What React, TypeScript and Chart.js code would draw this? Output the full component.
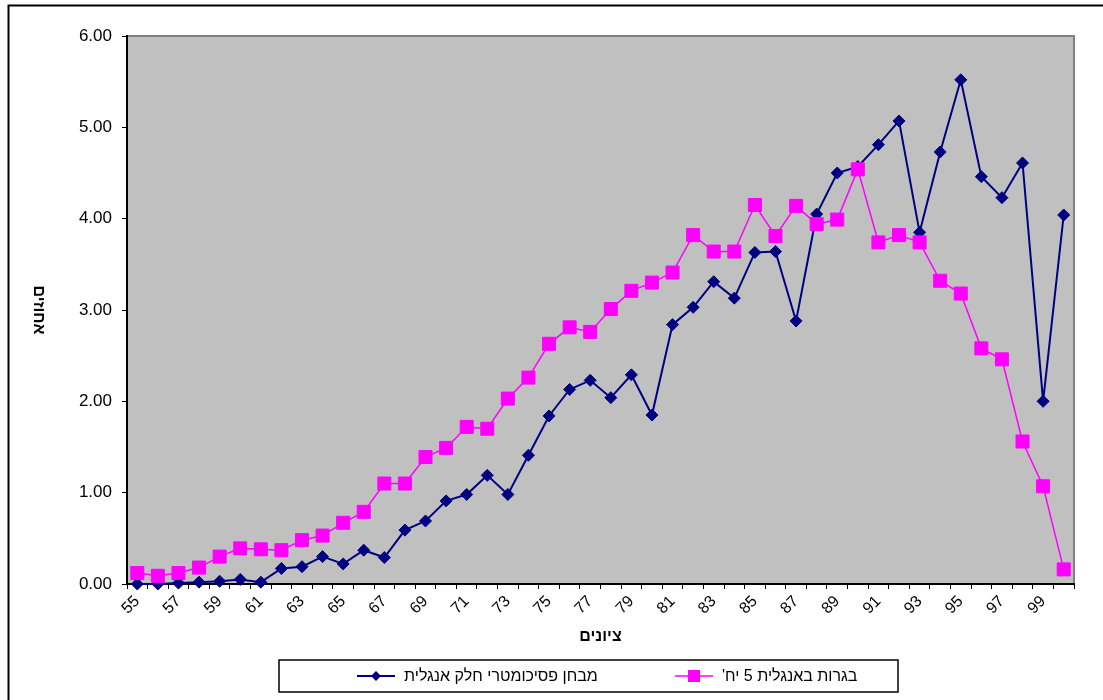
import React, { useEffect, useRef } from 'react';
import { Chart, registerables } from 'chart.js';

Chart.register(...registerables);

// Scores (x categories)
const scores = [
  '55', '56', '57', '58', '59', '60', '61', '62', '63', '64',
  '65', '66', '67', '68', '69', '70', '71', '72', '73', '74',
  '75', '76', '77', '78', '79', '80', '81', '82', '83', '84',
  '85', '86', '87', '88', '89', '90', '91', '92', '93', '94',
  '95', '96', '97', '98', '99', '100',
];

// Psychometric exam, English section (percent of examinees per score)
const psychometricEnglish = [
  0.0, 0.0, 0.01, 0.02, 0.03, 0.05, 0.02, 0.17, 0.19, 0.3,
  0.22, 0.37, 0.29, 0.59, 0.69, 0.91, 0.98, 1.19, 0.98, 1.41,
  1.84, 2.13, 2.23, 2.04, 2.29, 1.85, 2.84, 3.03, 3.31, 3.13,
  3.63, 3.64, 2.88, 4.05, 4.5, 4.57, 4.81, 5.07, 3.85, 4.73,
  5.52, 4.46, 4.23, 4.61, 2.0, 4.04,
];

// Matriculation exam, English 5 units (percent of examinees per score)
const matriculationEnglish = [
  0.12, 0.09, 0.12, 0.18, 0.3, 0.39, 0.38, 0.37, 0.48, 0.53,
  0.67, 0.79, 1.1, 1.1, 1.39, 1.49, 1.72, 1.7, 2.03, 2.26,
  2.63, 2.81, 2.76, 3.01, 3.21, 3.3, 3.41, 3.82, 3.64, 3.64,
  4.15, 3.81, 4.14, 3.94, 3.99, 4.54, 3.74, 3.82, 3.74, 3.32,
  3.18, 2.58, 2.46, 1.56, 1.07, 0.16,
];

const seriesLabels = ['מבחן פסיכומטרי חלק אנגלית', "בגרות באנגלית 5 יח'"];
const xTitle = 'ציונים';
const yTitle = 'אחוזים';
const yMin = 0;
const yMax = 6;
const yStep = 1;

const FONT = "'Liberation Sans', Arial, sans-serif";
const NAVY = '#000080';
const MAGENTA = '#FF00FF';
const W = 1103;
const H = 700;

// Frame, grey plot area, axis titles and legend drawn directly on the canvas
const decorations = {
  id: 'decorations',
  beforeDraw(chart: any) {
    const { ctx, chartArea: a } = chart;
    ctx.save();
    ctx.fillStyle = '#ffffff';
    ctx.fillRect(0, 0, W, H);
    ctx.strokeStyle = '#000000';
    ctx.lineWidth = 2;
    ctx.strokeRect(8.5, 5.5, 1100, 700);
    ctx.fillStyle = '#C0C0C0';
    ctx.fillRect(a.left, a.top, a.right - a.left, a.bottom - a.top);
    ctx.strokeStyle = '#808080';
    ctx.lineWidth = 2;
    ctx.beginPath();
    ctx.moveTo(a.left, a.top);
    ctx.lineTo(a.right, a.top);
    ctx.lineTo(a.right, a.bottom);
    ctx.stroke();
    ctx.restore();
  },
  afterDraw(chart: any) {
    const { ctx, chartArea: a } = chart;
    ctx.save();
    ctx.direction = 'rtl';
    ctx.fillStyle = '#000000';
    ctx.font = `bold 16px ${FONT}`;
    ctx.textAlign = 'center';
    ctx.textBaseline = 'middle';
    ctx.fillText(xTitle, (a.left + a.right) / 2, 637);

    ctx.save();
    ctx.translate(38, (a.top + a.bottom) / 2);
    ctx.rotate(Math.PI / 2);
    ctx.fillText(yTitle, 0, 0);
    ctx.restore();

    // Legend
    const box = { x: 279, y: 660, w: 619, h: 32 };
    ctx.strokeStyle = '#000000';
    ctx.lineWidth = 1.5;
    ctx.strokeRect(box.x, box.y, box.w, box.h);
    const cy = box.y + box.h / 2;
    const items = [
      { x: 357, ds: chart.data.datasets[0] },
      { x: 675, ds: chart.data.datasets[1] },
    ];
    ctx.font = `16px ${FONT}`;
    ctx.textAlign = 'left';
    for (const it of items) {
      const ds = it.ds;
      ctx.strokeStyle = ds.borderColor;
      ctx.lineWidth = ds.borderWidth;
      ctx.beginPath();
      ctx.moveTo(it.x, cy);
      ctx.lineTo(it.x + 38, cy);
      ctx.stroke();
      ctx.fillStyle = ds.pointBackgroundColor;
      const mx = it.x + 19;
      if (ds.pointStyle === 'rectRot') {
        const r = 5;
        ctx.beginPath();
        ctx.moveTo(mx - r, cy);
        ctx.lineTo(mx, cy - r);
        ctx.lineTo(mx + r, cy);
        ctx.lineTo(mx, cy + r);
        ctx.closePath();
        ctx.fill();
      } else {
        const s = 6;
        ctx.fillRect(mx - s, cy - s, 2 * s, 2 * s);
      }
      ctx.fillStyle = '#000000';
      ctx.fillText(ds.label, it.x + 47, cy + 1);
    }
    ctx.restore();
  },
};

export default function App() {
  const ref = useRef<HTMLCanvasElement | null>(null);

  useEffect(() => {
    if (!ref.current) return;
    const chart = new Chart(ref.current, {
      type: 'line',
      data: {
        labels: scores,
        datasets: [
          {
            label: seriesLabels[0],
            data: psychometricEnglish,
            borderColor: NAVY,
            backgroundColor: NAVY,
            borderWidth: 2,
            pointStyle: 'rectRot',
            pointRadius: 6,
            pointBorderWidth: 1,
            pointBackgroundColor: NAVY,
            pointBorderColor: NAVY,
            tension: 0,
            clip: false,
            order: 1,
          },
          {
            label: seriesLabels[1],
            data: matriculationEnglish,
            borderColor: MAGENTA,
            backgroundColor: MAGENTA,
            borderWidth: 1.5,
            pointStyle: 'rect',
            pointRadius: 9.2,
            pointBorderWidth: 1,
            pointBackgroundColor: MAGENTA,
            pointBorderColor: MAGENTA,
            tension: 0,
            clip: false,
            order: 0,
          },
        ],
      },
      options: {
        animation: false,
        responsive: false,
        devicePixelRatio: 1,
        layout: { padding: { left: 0, top: 36, right: 29, bottom: 0 } },
        plugins: {
          legend: { display: false },
          tooltip: { enabled: false },
          title: { display: false },
        },
        scales: {
          x: {
            type: 'category',
            offset: true,
            afterFit(scale: any) {
              scale.height = 116;
            },
            grid: {
              display: true,
              drawOnChartArea: false,
              drawTicks: true,
              tickLength: 5,
              color: '#000000',
              lineWidth: 1,
              offset: true,
            },
            border: { display: true, color: '#000000', width: 2 },
            ticks: {
              autoSkip: false,
              minRotation: 45,
              maxRotation: 45,
              padding: 3,
              color: '#000000',
              font: { family: FONT, size: 16 },
              callback: (_v: any, i: number) => (i % 2 === 0 ? scores[i] : ''),
            },
          },
          y: {
            min: yMin,
            max: yMax,
            afterFit(scale: any) {
              scale.width = 127;
            },
            grid: {
              display: true,
              drawOnChartArea: false,
              drawTicks: true,
              tickLength: 5,
              color: '#000000',
              lineWidth: 1,
            },
            border: { display: true, color: '#000000', width: 2 },
            ticks: {
              stepSize: yStep,
              padding: 10,
              color: '#000000',
              font: { family: FONT, size: 17 },
              callback: (v: any) => Number(v).toFixed(2),
            },
          },
        },
      },
      plugins: [decorations],
    });
    return () => chart.destroy();
  }, []);

  return (
    <div style={{ position: 'absolute', left: 0, top: 0, width: W, height: H }}>
      <canvas ref={ref} width={W} height={H} style={{ width: W, height: H, display: 'block' }} />
    </div>
  );
}
